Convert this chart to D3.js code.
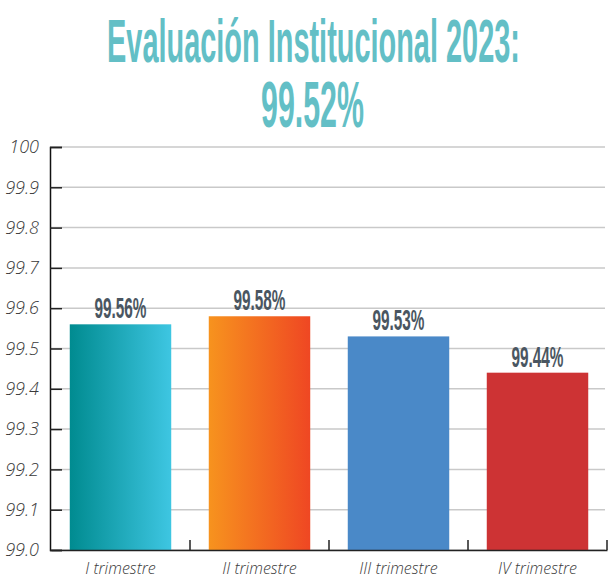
<!DOCTYPE html>
<html>
<head>
<meta charset="utf-8">
<script src="https://cdn.jsdelivr.net/npm/d3@7"></script>
<style>
  body { margin: 0; background: #fff; }
  svg { display: block; }
</style>
</head>
<body>
<div id="grafico"></div>
<script>
// datos
var trimestres = ["I trimestre", "II trimestre", "III trimestre", "IV trimestre"];
var valores = [99.56, 99.58, 99.53, 99.44];
var etiquetas = ["99.56%", "99.58%", "99.53%", "99.44%"];
var ticksY = [99.0, 99.1, 99.2, 99.3, 99.4, 99.5, 99.6, 99.7, 99.8, 99.9, 100];
var titulo = ["Evaluación Institucional 2023:", "99.52%"];

var w = 613, h = 578;

var colores = [
    {a: "#008b90", b: "#3ec6e2"},
    {a: "#f7931e", b: "#ef4723"},
    {a: "#4a89c8", b: "#4a89c8"},
    {a: "#cd3334", b: "#cd3334"}
];

var svg = d3.select("#grafico").append("svg")
    .attr("width", w)
    .attr("height", h);

var defs = svg.append("defs");
colores.forEach(function(c, i) {
    var g = defs.append("linearGradient")
        .attr("id", "grad" + i)
        .attr("x1", "0%").attr("x2", "100%")
        .attr("y1", "0%").attr("y2", "0%");
    g.append("stop").attr("offset", "0%").attr("stop-color", c.a);
    g.append("stop").attr("offset", "100%").attr("stop-color", c.b);
});

var x = d3.scaleBand()
    .domain(trimestres)
    .range([51, 607])
    .paddingInner(0.27)
    .paddingOuter(0.135);

var y = d3.scaleLinear()
    .domain([99, 100])
    .range([550, 147]);

// texto comprimido (fuente condensada simulada)
function textoCondensado(sel, txt, cx, base, size, ancho, color) {
    var g = sel.append("g");
    var t = g.append("text")
        .text(txt)
        .attr("font-family", "Liberation Sans, Arial, sans-serif")
        .attr("font-weight", "bold")
        .attr("font-size", size)
        .attr("text-anchor", "middle")
        .attr("fill", color);
    var len = t.node().getComputedTextLength();
    g.attr("transform", "translate(" + cx + "," + base + ") scale(" + (ancho / len) + ",1)");
}

// titulo
textoCondensado(svg, titulo[0], 313.5, 62, 62, 413, "#63bfc6");
textoCondensado(svg, titulo[1], 312.5, 127, 64, 103, "#63bfc6");

// lineas de guia
svg.append("g")
    .selectAll("line")
    .data(ticksY)
    .enter().append("line")
    .attr("x1", 50)
    .attr("x2", 605)
    .attr("y1", function(d) { return y(d); })
    .attr("y2", function(d) { return y(d); })
    .attr("stroke", "#c9c9c9")
    .attr("stroke-width", 1.5);

// barras
svg.append("g")
    .selectAll("rect")
    .data(valores)
    .enter().append("rect")
    .attr("x", function(d, i) { return x(trimestres[i]); })
    .attr("y", function(d) { return y(d); })
    .attr("width", x.bandwidth())
    .attr("height", function(d) { return y(99) - y(d); })
    .attr("fill", function(d, i) { return "url(#grad" + i + ")"; });

// etiquetas de valor
valores.forEach(function(d, i) {
    textoCondensado(svg, etiquetas[i], x(trimestres[i]) + x.bandwidth() / 2, y(d) - 6, 29, 52, "#4a5661");
});

// eje Y
var ejeY = svg.append("g")
    .attr("transform", "translate(50,0)")
    .call(d3.axisLeft(y)
        .tickValues(ticksY)
        .tickSize(-12)
        .tickPadding(11)
        .tickFormat(function(d) { return d == 100 ? "100" : d.toFixed(1); }));
ejeY.select(".domain").attr("stroke", "#111").attr("stroke-width", 1.5);
ejeY.selectAll(".tick line").attr("stroke", "#222").attr("stroke-width", 1.5);
ejeY.selectAll("text")
    .attr("font-family", "Open Sans, sans-serif")
    .attr("font-style", "italic")
    .attr("font-weight", 300)
    .attr("font-size", "18px")
    .attr("fill", "#3a3a3a");

// eje X
var ejeX = svg.append("g")
    .attr("transform", "translate(0,550)")
    .call(d3.axisBottom(x).tickSize(0).tickPadding(13));
ejeX.select(".domain").attr("stroke", "#222").attr("stroke-width", 1.5);
ejeX.selectAll("text")
    .attr("font-family", "Open Sans, sans-serif")
    .attr("font-style", "italic")
    .attr("font-weight", 300)
    .attr("font-size", "16px")
    .attr("fill", "#3a3a3a");

// separadores de categoria
ejeX.selectAll(".sep")
    .data(trimestres)
    .enter().append("line")
    .attr("class", "sep")
    .attr("x1", function(d, i) { return x.range()[0] + x.step() * (i + 1); })
    .attr("x2", function(d, i) { return x.range()[0] + x.step() * (i + 1); })
    .attr("y1", 0)
    .attr("y2", -10)
    .attr("stroke", "#222")
    .attr("stroke-width", 1.5);
</script>
</body>
</html>
